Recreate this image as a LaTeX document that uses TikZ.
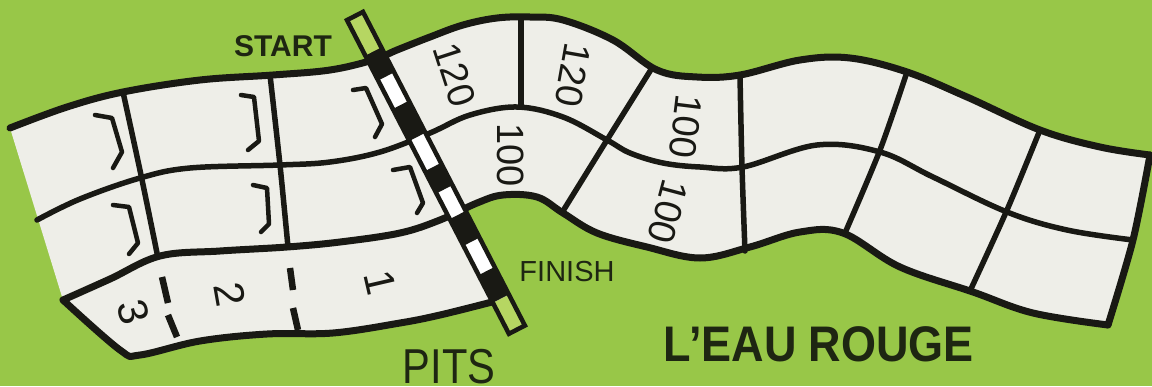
\documentclass[tikz,border=0pt]{standalone}
\usepackage{fontspec}
\setmainfont{Liberation Sans}
\definecolor{grass}{RGB}{152,199,72}
\definecolor{grasslight}{RGB}{182,214,98}
\definecolor{trackc}{RGB}{238,238,232}
\definecolor{ink}{RGB}{25,25,20}
\definecolor{txt}{RGB}{30,38,18}
\begin{document}
\begin{tikzpicture}[x=1pt,y=-1pt,
  edge/.style={draw=ink,line width=7,line join=round,line cap=round},
  lane/.style={draw=ink,line width=5.5,line join=round,line cap=round},
  chev/.style={draw=ink,line width=4.5,line join=round,line cap=round},
  sepdash/.style={draw=ink,line width=6.5,line cap=butt},
  num/.style={font=\fontsize{38}{40}\selectfont,text=ink,inner sep=0pt},
  pitnum/.style={font=\fontsize{42}{44}\selectfont,text=ink,inner sep=0pt},
]
\fill[grass] (0,0) rectangle (1152,386);
\useasboundingbox (0,0) rectangle (1152,386);

% track surface
\fill[trackc]
  plot[smooth,tension=0.6] coordinates {(10,128) (67,107) (123,92) (200,80) (273,75) (330,70) (373,60) (397,50) (430,37) (463,25) (497,18) (530,17) (563,20) (613,40) (657,70) (697,77) (740,75) (800,60) (850,58) (907,72) (967,97) (1040,130) (1100,147) (1150,155)}
  -- plot[smooth] coordinates {(1150,155) (1133,240) (1108,325)}
  -- plot[smooth,tension=0.6] coordinates {(1108,325) (1033,313) (973,292) (900,267) (843,233) (800,232) (750,247) (700,258) (647,247) (597,233) (563,213) (537,197) (503,195) (477,203) (455,213)}
  -- (495,305)
  -- plot[smooth,tension=0.6] coordinates {(492,302) (440,315) (400,323) (333,333) (267,334) (200,341) (140,355) (120,350) (63,300)}
  -- cycle;

% outer edges
\draw[edge] plot[smooth,tension=0.6] coordinates {(10,128) (67,107) (123,92) (200,80) (273,75) (330,70) (373,60) (397,50) (430,37) (463,25) (497,18) (530,17) (563,20) (613,40) (657,70) (697,77) (740,75) (800,60) (850,58) (907,72) (967,97) (1040,130) (1100,147) (1150,155)};
\draw[edge] plot[smooth] coordinates {(1150,155) (1133,240) (1108,325)};
\draw[edge] plot[smooth,tension=0.6] coordinates {(63,300) (120,350) (140,355) (200,341) (267,334) (333,333) (400,323) (440,315) (492,302)};

% lane lines
\draw[lane] plot[smooth,tension=0.6] coordinates {(37,220) (80,199) (140,178) (190,168) (280,165) (330,162) (380,152) (430,133) (470,115) (517,107) (563,117) (607,140) (630,153) (663,163) (700,167) (743,167) (817,145) (880,152) (933,177) (1007,212) (1067,230) (1133,240)};
\draw[edge] plot[smooth,tension=0.6] coordinates {(63,300) (110,279) (160,256) (220,251) (287,247) (340,242) (400,233) (440,220) (477,203) (503,195) (537,197) (563,213) (597,233) (647,247) (700,258) (750,247) (800,232) (843,233) (900,267) (973,292) (1033,313) (1108,325)};

% cross lines
\draw[lane] plot[smooth] coordinates {(123,92) (141,175) (157,253)};
\draw[lane] plot[smooth] coordinates {(270,75) (280,165) (288,247)};
\draw[lane] (521,17) -- (521,105);
\draw[lane] plot[smooth] coordinates {(652,68) (607,140) (563,211)};
\draw[lane] plot[smooth] coordinates {(740,76) (742,167) (745,251)};
\draw[lane] plot[smooth] coordinates {(907,72) (880,150) (845,233)};
\draw[lane] plot[smooth] coordinates {(1040,130) (1007,210) (970,291)};

% pit separators
\draw[sepdash] (162,277) -- (168,303);
\draw[sepdash] (168,315) -- (177,337);
\draw[sepdash] (290,268) -- (293,290);
\draw[sepdash] (293,308) -- (298,330);

% chevrons
\draw[chev] (95,115) -- (112,118) -- (122,152) -- (113,168);
\draw[chev] (241,95) -- (254,97) -- (259,141) -- (248,150);
\draw[chev] (353,90) -- (366,88) -- (382,124) -- (375,137);
\draw[chev] (113,205) -- (129,207) -- (138,243) -- (129,254);
\draw[chev] (253,185) -- (267,188) -- (269,224) -- (261,232);
\draw[chev] (393,170) -- (410,167) -- (423,203) -- (417,213);

% start / finish strip
\begin{scope}[shift={(355,16)},rotate=-62.7]
  \fill[grasslight] (0,-9) rectangle (353,9);
  \fill[white] (46,-9) rectangle (318,9);
  \foreach \a/\b in {40/68,100/136,170/195,224/254,287/318}
    \fill[ink] (\a,-9) rectangle (\b,9);
  \draw[ink,line width=4.5] (0,-9) rectangle (353,9);
\end{scope}

% numbers on the track
\node[num,rotate=-72] (n1) at (455,75) {120};
\node[num,rotate=-100] (n2) at (573,75) {120};
\node[num,rotate=-90] (n3) at (511,155) {100};
\node[num,rotate=-97] (n4) at (686,127) {100};
\node[num,rotate=-105] (n5) at (668,212) {100};

% pit numbers
\node[pitnum,rotate=-75] (p3) at (133,312) {3};
\node[pitnum,rotate=-80] (p2) at (230,294) {2};
\node[pitnum,rotate=-77] (p1) at (380,283) {1};

% labels
\node[font=\bfseries\fontsize{30}{32}\selectfont,text=txt,inner sep=0pt] (start) at (283,46) {START};
\node[font=\fontsize{29}{31}\selectfont,text=txt,inner sep=0pt] (finish) at (567,272) {FINISH};
\node[font=\fontsize{49}{51}\selectfont,text=txt,inner sep=0pt,xscale=0.85] (pits) at (449,366.5) {PITS};
\node[font=\bfseries\fontsize{50}{52}\selectfont,text=txt,inner sep=0pt,xscale=0.9] (eau) at (819,344) {L’EAU ROUGE};
\end{tikzpicture}
\end{document}
